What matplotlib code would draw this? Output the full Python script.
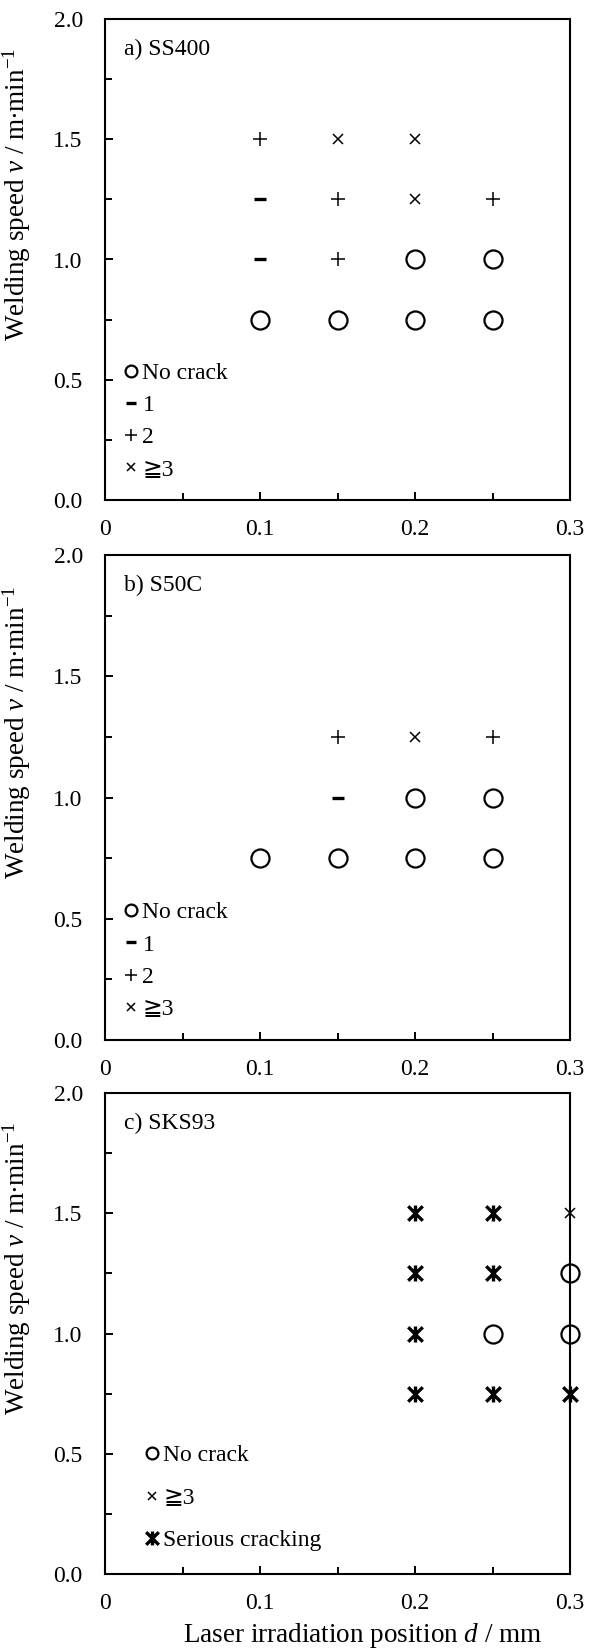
import matplotlib
matplotlib.use("Agg")
import matplotlib.pyplot as plt
from matplotlib.lines import Line2D
from matplotlib.path import Path
from matplotlib.ticker import FixedLocator, FixedFormatter, MultipleLocator

# ---------------- data ----------------
x_ticks = [0.0, 0.1, 0.2, 0.3]
x_tick_labels = ["0", "0.1", "0.2", "0.3"]
y_ticks = [0.0, 0.5, 1.0, 1.5, 2.0]
y_tick_labels = ["0.0", "0.5", "1.0", "1.5", "2.0"]

panel_titles = ["a) SS400", "b) S50C", "c) SKS93"]

# a) SS400
ss400_none_x = [0.10, 0.15, 0.20, 0.25, 0.20, 0.25]
ss400_none_y = [0.75, 0.75, 0.75, 0.75, 1.00, 1.00]
ss400_one_x = [0.10, 0.10]
ss400_one_y = [1.00, 1.25]
ss400_two_x = [0.10, 0.15, 0.15, 0.25]
ss400_two_y = [1.50, 1.00, 1.25, 1.25]
ss400_three_x = [0.15, 0.20, 0.20]
ss400_three_y = [1.50, 1.50, 1.25]

# b) S50C
s50c_none_x = [0.10, 0.15, 0.20, 0.25, 0.20, 0.25]
s50c_none_y = [0.75, 0.75, 0.75, 0.75, 1.00, 1.00]
s50c_one_x = [0.15]
s50c_one_y = [1.00]
s50c_two_x = [0.15, 0.25]
s50c_two_y = [1.25, 1.25]
s50c_three_x = [0.20]
s50c_three_y = [1.25]

# c) SKS93
sks93_none_x = [0.25, 0.30, 0.30]
sks93_none_y = [1.00, 1.00, 1.25]
sks93_three_x = [0.30]
sks93_three_y = [1.50]
sks93_serious_x = [0.20, 0.20, 0.20, 0.20, 0.25, 0.25, 0.25, 0.30]
sks93_serious_y = [0.75, 1.00, 1.25, 1.50, 0.75, 1.25, 1.50, 0.75]

label_none = "No crack"
label_one = "1"
label_two = "2"
label_three = "\u2267" + "3"
label_serious = "Serious cracking"

# ---------------- style ----------------
plt.rcParams['font.family'] = ['Liberation Serif', 'DejaVu Serif', 'DejaVu Sans']
plt.rcParams['mathtext.fontset'] = 'custom'
plt.rcParams['mathtext.rm'] = 'Liberation Serif'
plt.rcParams['mathtext.it'] = 'Liberation Serif:italic'

FS = 17
LFS = 19.5
star_path = Path([(-1, -1), (1, 1), (-1, 1), (1, -1), (0, -1.1), (0, 1.1)],
                 [Path.MOVETO, Path.LINETO, Path.MOVETO, Path.LINETO, Path.MOVETO, Path.LINETO])

styles = {
    "none": dict(marker='o', ms=13, mfc='none', mec='k', mew=1.6),
    "one": dict(marker='_', ms=8.5, mec='k', mew=2.4),
    "two": dict(marker='+', ms=9.5, mec='k', mew=1.1),
    "three": dict(marker='x', ms=7.5, mec='k', mew=1.1),
    "serious": dict(marker=star_path, ms=11.5, mfc='none', mec='k', mew=2.4),
}
leg_styles = {
    "none": dict(marker='o', ms=8.5, mfc='none', mec='k', mew=1.6),
    "one": dict(marker='_', ms=6.5, mec='k', mew=2.4),
    "two": dict(marker='+', ms=8, mec='k', mew=1.1),
    "three": dict(marker='x', ms=6, mec='k', mew=1.1),
    "serious": dict(marker=star_path, ms=10, mfc='none', mec='k', mew=2.4),
}

fig = plt.figure(figsize=(5.92, 16.51), dpi=100)
W, H = 592.0, 1651.0
L, R = 105, 570
panel_px = [(19, 500), (555, 1040), (1093, 1574)]
axes = []
for top, bot in panel_px:
    axes.append(fig.add_axes([L / W, 1 - bot / H, (R - L) / W, (bot - top) / H]))

panels = [
    [("none", ss400_none_x, ss400_none_y), ("one", ss400_one_x, ss400_one_y),
     ("two", ss400_two_x, ss400_two_y), ("three", ss400_three_x, ss400_three_y)],
    [("none", s50c_none_x, s50c_none_y), ("one", s50c_one_x, s50c_one_y),
     ("two", s50c_two_x, s50c_two_y), ("three", s50c_three_x, s50c_three_y)],
    [("none", sks93_none_x, sks93_none_y), ("three", sks93_three_x, sks93_three_y),
     ("serious", sks93_serious_x, sks93_serious_y)],
]
label_map = {"none": label_none, "one": label_one, "two": label_two,
             "three": label_three, "serious": label_serious}

ylabel = r"Welding speed $v$ / m$\bullet$min$^{-1}$"

for i, ax in enumerate(axes):
    for key, xs, ys in panels[i]:
        ax.plot(xs, ys, ls='none', clip_on=False, zorder=5, **styles[key])
    ax.set_xlim(0, 0.3)
    ax.set_ylim(0, 2.0)
    ax.xaxis.set_major_locator(FixedLocator(x_ticks))
    ax.xaxis.set_major_formatter(FixedFormatter(x_tick_labels))
    ax.yaxis.set_major_locator(FixedLocator(y_ticks))
    ax.yaxis.set_major_formatter(FixedFormatter(y_tick_labels))
    ax.xaxis.set_minor_locator(MultipleLocator(0.05))
    ax.yaxis.set_minor_locator(MultipleLocator(0.25))
    ax.tick_params(which='both', direction='in', width=1.4, colors='k',
                   labelsize=FS, top=False, right=False)
    ax.tick_params(which='major', length=5.5)
    ax.tick_params(which='minor', length=5)
    ax.tick_params(axis='y', which='major', pad=16)
    ax.tick_params(axis='x', which='major', pad=14)
    for s in ax.spines.values():
        s.set_linewidth(1.5)
    ax.text(0.04, 0.937, panel_titles[i], transform=ax.transAxes,
            fontsize=FS, va='center', ha='left')
    ax.set_ylabel(ylabel, fontsize=LFS)
    ax.yaxis.set_label_coords(-0.155, 0.635)

    handles = []
    labels = []
    for key, _, _ in panels[i]:
        handles.append(Line2D([], [], ls='none', **leg_styles[key]))
        labels.append(label_map[key])
    if i < 2:
        anchor = (0.04, 0.163)
        spacing = 0.45
    else:
        anchor = (0.085, 0.158)
        spacing = 0.88
    ax.legend(handles, labels, loc='center left', bbox_to_anchor=anchor,
              frameon=False, fontsize=FS, handlelength=0.6, handletextpad=0.2,
              labelspacing=spacing, borderpad=0, borderaxespad=0)

fig.text(363 / W, 1 - 1635 / H, r"Laser irradiation position $d$ / mm",
         fontsize=LFS, ha='center', va='center')

fig.savefig("out.png", dpi=100)
